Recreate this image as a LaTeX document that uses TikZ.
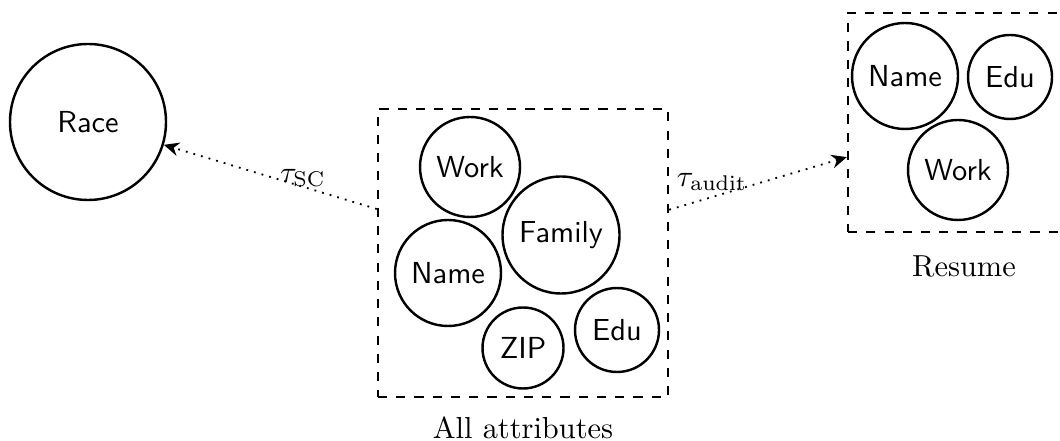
\documentclass[tikz,border=0pt]{standalone}
\usetikzlibrary{arrows.meta}
\begin{document}
\begin{tikzpicture}[x=0.3289pt,y=-0.3289pt,
  circ/.style={circle,draw,thick,inner sep=0pt,font=\sffamily,minimum size=#1*0.3289pt},
  group/.style={draw,thick,dashed,inner sep=0pt},
  rel/.style={dotted,semithick,-{Stealth[length=5pt,width=4.5pt]}}]
\useasboundingbox (0,0) rectangle (1060,441);
% left
\node[circ=156] (race) at (88,122) {Race};
% all attributes box
\node[group,minimum width=290*0.3289pt,minimum height=288*0.3289pt,
  label={[label distance=2.4pt]below:All attributes}] (all) at (523,253) {};
\node[circ=100] (work) at (470,167) {Work};
\node[circ=117] (family) at (561,235) {Family};
\node[circ=106] (name) at (448,273) {Name};
\node[circ=81] (zip) at (523,348) {ZIP};
\node[circ=84] (edu) at (617,330) {Edu};
% resume box
\node[group,minimum width=232*0.3289pt,minimum height=219*0.3289pt,
  label={[label distance=4pt]below:Resume}] (resume) at (964,122.5) {};
\node[circ=106] (rname) at (905,76) {Name};
\node[circ=84] (redu) at (1010,77) {Edu};
\node[circ=100] (rwork) at (958,170) {Work};
% arrows
\draw[rel] (all) -- (race);
\draw[rel] (all) -- (resume);
\node (tsc) at (303,178) {$\tau_{\mathrm{SC}}$};
\node (taudit) at (712,182) {$\tau_{\mathrm{audit}}$};
\end{tikzpicture}
\end{document}
